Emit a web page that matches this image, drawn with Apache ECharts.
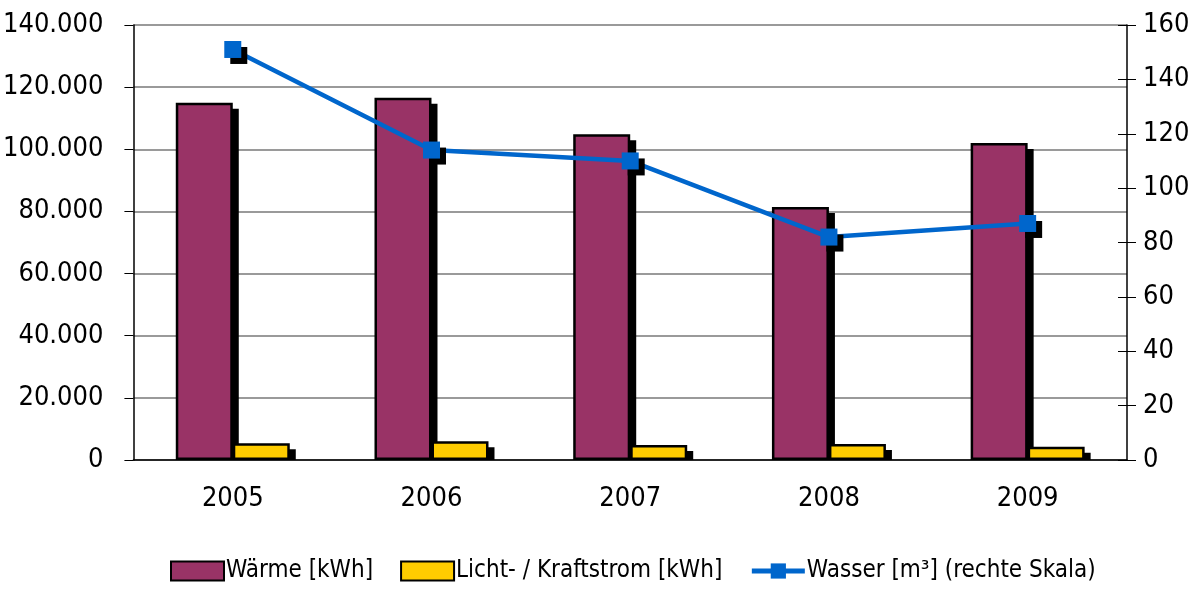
<!DOCTYPE html>
<html>
<head>
<meta charset="utf-8">
<script src="https://cdn.jsdelivr.net/npm/echarts@6/dist/echarts.min.js"></script>
<style>
  html, body { margin: 0; padding: 0; background: #fff; }
  #chart { width: 1201px; height: 591px; }
</style>
</head>
<body>
<div id="chart"></div>
<script>
// Daten
const categories = ['2005', '2006', '2007', '2008', '2009']
const waerme = [115000, 116600, 104800, 81400, 102000]
const strom = [5400, 6000, 4800, 5150, 4300]
const wasser = [151, 114, 110, 82, 87]
const seriesNames = ['Wärme [kWh]', 'Licht- / Kraftstrom [kWh]', 'Wasser [m³] (rechte Skala)']
const leftMax = 140000
const leftStep = 20000
const rightMax = 160
const rightStep = 20

const FONT = "'DejaVu Sans Condensed', 'Liberation Sans Narrow', sans-serif"
const BAR_W = 57
const SHADOW = 6

function deNumber(v) {
  return String(v).replace(/\B(?=(\d{3})+(?!\d))/g, '.')
}

// Schlagschatten der Säulen (unten an der Achse abgeschnitten)
function renderShadow(params, api) {
  const idx = api.value(0)
  const base = api.coord([idx, 0])
  const cx = base[0]
  const y0 = base[1]
  const yW = api.coord([idx, api.value(1)])[1]
  const yL = api.coord([idx, api.value(2)])[1]
  return {
    type: 'group',
    children: [{
      type: 'rect',
      shape: { x: cx - BAR_W + SHADOW, y: yW + SHADOW, width: BAR_W, height: Math.max(0, y0 - yW - SHADOW) },
      style: { fill: '#000' }
    }, {
      type: 'rect',
      shape: { x: cx + SHADOW, y: yL + SHADOW, width: BAR_W, height: Math.max(0, y0 - yL - SHADOW) },
      style: { fill: '#000' }
    }]
  }
}

const chart = echarts.init(document.getElementById('chart'), null, { renderer: 'canvas' })
chart.setOption({
  animation: false,
  textStyle: { fontFamily: FONT, color: '#000' },
  grid: { left: 133, right: 74, top: 25, bottom: 131, containLabel: false },
  legend: {
    bottom: 3,
    left: 165,
    itemWidth: 53,
    itemHeight: 19,
    itemGap: 27,
    textStyle: { fontFamily: FONT, fontSize: 24, color: '#000', padding: [0, 0, 0, -3] },
    data: [
      { name: seriesNames[0], icon: 'rect' },
      { name: seriesNames[1], icon: 'rect' },
      { name: seriesNames[2], lineStyle: { width: 5, color: '#0066CC' } }
    ]
  },
  xAxis: [{
    type: 'category',
    data: categories,
    boundaryGap: true,
    z: 4,
    axisLine: { lineStyle: { color: '#000', width: 1.5 } },
    axisTick: { length: 9, lineStyle: { color: '#000' } },
    axisLabel: { fontFamily: FONT, fontSize: 27, color: '#000', margin: 25 }
  }, {
    type: 'category',
    data: categories,
    boundaryGap: true,
    position: 'bottom',
    z: 4,
    axisLine: { show: false },
    axisTick: { inside: true, length: 10, lineStyle: { color: '#000' } },
    axisLabel: { show: false }
  }],
  yAxis: [{
    type: 'value',
    min: 0,
    max: leftMax,
    interval: leftStep,
    axisLine: { show: true, lineStyle: { color: '#000', width: 1.5 } },
    axisTick: { show: true, length: 9, lineStyle: { color: '#000' } },
    axisLabel: { fontFamily: FONT, fontSize: 27, color: '#000', margin: 30, formatter: deNumber },
    splitLine: { lineStyle: { color: '#9a9a9a', width: 2 } }
  }, {
    type: 'value',
    position: 'right',
    min: 0,
    max: rightMax,
    interval: rightStep,
    axisLine: { show: true, lineStyle: { color: '#000', width: 1.5 } },
    axisTick: { show: true, length: 9, lineStyle: { color: '#000' } },
    axisLabel: { fontFamily: FONT, fontSize: 27, color: '#000', margin: 16 },
    splitLine: { show: false }
  }, {
    type: 'value',
    position: 'right',
    min: 0,
    max: rightMax,
    interval: rightStep,
    axisLine: { show: false },
    axisTick: { show: true, inside: true, length: 9, lineStyle: { color: '#000' } },
    axisLabel: { show: false },
    splitLine: { show: false }
  }],
  series: [{
    name: 'schatten',
    type: 'custom',
    xAxisIndex: 0,
    yAxisIndex: 0,
    z: 1,
    silent: true,
    renderItem: renderShadow,
    encode: { x: 0, y: [1, 2] },
    data: categories.map((c, i) => [i, waerme[i], strom[i]])
  }, {
    name: seriesNames[0],
    type: 'bar',
    yAxisIndex: 0,
    barWidth: BAR_W,
    barGap: '0%',
    itemStyle: { color: '#993366', borderColor: '#000', borderWidth: 2.5 },
    data: waerme
  }, {
    name: seriesNames[1],
    type: 'bar',
    yAxisIndex: 0,
    barWidth: BAR_W,
    barGap: '0%',
    itemStyle: { color: '#FFCC00', borderColor: '#000', borderWidth: 2.5 },
    data: strom
  }, {
    name: seriesNames[2],
    type: 'line',
    yAxisIndex: 1,
    z: 5,
    symbol: 'rect',
    symbolSize: 17,
    lineStyle: { color: '#0066CC', width: 4.5 },
    itemStyle: { color: '#0066CC', shadowColor: '#000', shadowBlur: 0, shadowOffsetX: SHADOW, shadowOffsetY: SHADOW },
    data: wasser
  }]
})
</script>
</body>
</html>
